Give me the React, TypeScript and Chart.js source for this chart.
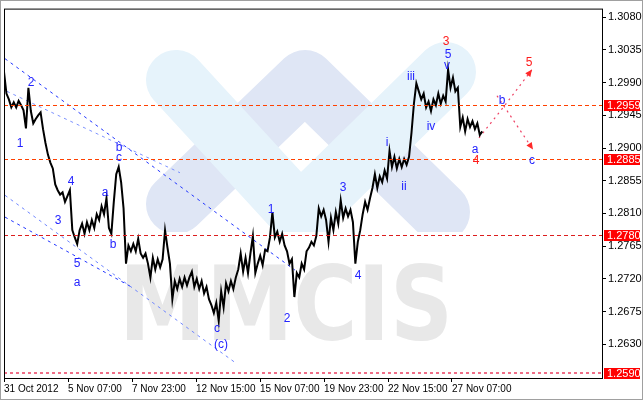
import { useEffect, useRef } from 'react';
import { Chart, registerables } from 'chart.js';
Chart.register(...registerables);

// hours between samples of the close series
const SAMPLE_HOURS = 2.44;
const closes = [
  1.3005, 1.2975, 1.2967, 1.2956, 1.2963, 1.2956, 1.2965, 1.2959, 1.2952, 1.2927,
  1.2983, 1.2951, 1.2934, 1.2940, 1.2945, 1.2949, 1.2926, 1.2907, 1.2891, 1.2880,
  1.2872, 1.2850, 1.2842, 1.2836, 1.2839, 1.2826, 1.2834, 1.2842, 1.2787, 1.2777,
  1.2768, 1.2787, 1.2796, 1.2782, 1.2798, 1.2787, 1.2801, 1.2790, 1.2809, 1.2801,
  1.2820, 1.2809, 1.2831, 1.2790, 1.2782, 1.2826, 1.2864, 1.2874, 1.2853, 1.2817,
  1.2741, 1.2766, 1.2758, 1.2768, 1.2758, 1.2775, 1.2755, 1.2749, 1.2755, 1.2741,
  1.2722, 1.2749, 1.2733, 1.2747, 1.2736, 1.2747, 1.2787, 1.2763, 1.2741, 1.2692,
  1.2717, 1.2706, 1.2720, 1.2709, 1.2722, 1.2711, 1.2722, 1.2730, 1.2709, 1.2720,
  1.2706, 1.2717, 1.2700, 1.2709, 1.2692, 1.2684, 1.2673, 1.2687, 1.2662, 1.2703,
  1.2681, 1.2714, 1.2703, 1.2717, 1.2706, 1.2722, 1.2733, 1.2755, 1.2730, 1.2749,
  1.2728, 1.2755, 1.2779, 1.2728, 1.2741, 1.2752, 1.2739, 1.2760, 1.2758, 1.2777,
  1.2812, 1.2777, 1.2785, 1.2771, 1.2782, 1.2766, 1.2758, 1.2741, 1.2747, 1.2695,
  1.2728, 1.2722, 1.2741, 1.2733, 1.2758, 1.2763, 1.2771, 1.2766, 1.2779, 1.2817,
  1.2806, 1.2815, 1.2801, 1.2771, 1.2804, 1.2787, 1.2812, 1.2796, 1.2828, 1.2804,
  1.2817, 1.2806, 1.2815, 1.2798, 1.2741, 1.2771, 1.2787, 1.2809, 1.2826, 1.2815,
  1.2831, 1.2845, 1.2864, 1.2845, 1.2861, 1.2853, 1.2869, 1.2858, 1.2896, 1.2874,
  1.2888, 1.2872, 1.2885, 1.2874, 1.2885, 1.2877, 1.2888, 1.2921, 1.2961, 1.2989,
  1.2978, 1.2967, 1.2975, 1.2956, 1.2964, 1.2951, 1.2967, 1.2959, 1.2975, 1.2961,
  1.2972, 1.2964, 1.3008, 1.2983, 1.2997, 1.2978, 1.2983, 1.2929, 1.2942, 1.2923,
  1.2940, 1.2929, 1.2937, 1.2926, 1.2934, 1.2918, 1.2923,
];

const xTickHours = [0, 64, 128, 192, 256, 320, 384, 448];
const xTickLabels = [
  '31 Oct 2012', '5 Nov 07:00', '7 Nov 23:00', '12 Nov 15:00',
  '15 Nov 07:00', '19 Nov 23:00', '22 Nov 15:00', '27 Nov 07:00',
];
const yTickValues = [1.263, 1.2675, 1.272, 1.2765, 1.281, 1.2855, 1.29, 1.2945, 1.299, 1.3035, 1.308];
const levelValues = [1.2959, 1.2885, 1.278, 1.259];

// channel lines: [hour, price] start / end
const trendStart = [[1, 1.3023], [3, 1.2978], [1, 1.2835], [1, 1.2805]];
const trendEnd = [[291, 1.2732], [176, 1.2866], [233, 1.2603], [126, 1.2710]];

// projected paths
const projUp = [[475, 1.2914], [501, 1.2959], [528, 1.3008]];
const projDown = [[493, 1.2972], [529, 1.2898]];

// wave labels
const waveText = ['1', '2', '3', '4', '5', 'a', 'a', 'b', 'b', 'c', 'c', '(c)', '1', '2', '3', '4', 'i', 'ii', 'iii', 'iv', 'v', '5', '3', 'a', '4', 'b', 'c', '5'];
const waveHour = [16, 27, 54, 67, 73, 73, 101, 109, 115, 115, 213, 217, 267, 283, 339, 354, 383, 400, 407, 427, 443, 444, 442, 471, 472, 498, 528, 525];
const wavePrice = [1.2906, 1.2990, 1.2800, 1.2854, 1.2741, 1.2715, 1.2839, 1.2767, 1.2900, 1.2887, 1.2652, 1.2630, 1.2815, 1.2665, 1.2845, 1.2725, 1.2908, 1.2847, 1.2998, 1.2929, 1.3014, 1.3028, 1.3046, 1.2898, 1.2883, 1.2965, 1.2883, 1.3018];
const waveMajor = [false, false, false, false, false, false, false, false, false, false, false, false, false, false, false, false, false, false, false, false, false, false, true, false, true, false, false, true];

const AXIS_FONT = "'Liberation Sans Narrow', 'Liberation Sans', sans-serif";
const BLUE = '#2424ff';
const RED = '#ff1a1a';

const trendColors = ['#2236ff', '#7d92ff', '#6f86ff', '#2236ff'];
const levelColors = ['rgb(255,64,0)', 'rgb(255,64,0)', 'rgb(220,30,30)', 'rgb(240,110,135)'];

const watermarkPlugin = {
  id: 'watermark',
  beforeDatasetsDraw(chart: any) {
    const { ctx, chartArea: a } = chart;
    ctx.save();
    ctx.beginPath();
    ctx.rect(a.left, a.top, a.right - a.left, 232 - a.top);
    ctx.clip();
    ctx.lineCap = 'round';
    ctx.lineJoin = 'round';
    ctx.lineWidth = 60;
    ctx.strokeStyle = '#dfe6f5';
    ctx.beginPath();
    ctx.moveTo(176, 204);
    ctx.lineTo(305, 80);
    ctx.lineTo(440, 212);
    ctx.stroke();
    ctx.lineJoin = 'miter';
    ctx.strokeStyle = '#e6f3fb';
    ctx.beginPath();
    ctx.moveTo(176, 80);
    ctx.lineTo(300, 215);
    ctx.lineTo(446, 72);
    ctx.stroke();
    ctx.restore();

    ctx.save();
    ctx.font = "bold 100px 'DejaVu Sans'";
    const m = ctx.measureText('MMCIS');
    const w = m.actualBoundingBoxRight + m.actualBoundingBoxLeft;
    const h = m.actualBoundingBoxAscent;
    ctx.translate(127, 340);
    ctx.scale(320 / w, 78 / h);
    ctx.fillStyle = '#e8e8e8';
    ctx.textBaseline = 'alphabetic';
    ctx.fillText('MMCIS', m.actualBoundingBoxLeft, 0);
    ctx.restore();
  },
};

const overlayPlugin = {
  id: 'overlay',
  afterDatasetsDraw(chart: any) {
    const { ctx, chartArea: a, scales } = chart;
    const y = scales.y;
    const x = scales.x;
    ctx.save();
    ctx.globalAlpha = 1;
    ctx.globalCompositeOperation = 'source-over';
    // level lines, drawn dash by dash
    levelValues.forEach((v, i) => {
      const py = Math.round(y.getPixelForValue(v));
      ctx.fillStyle = levelColors[i];
      const thick = i === 3 ? 2 : 1;
      const dash = i === 3 ? 3 : 4;
      const gap = 3;
      for (let px = a.left; px < a.right; px += dash + gap) {
        ctx.fillRect(px, py - (thick - 1), Math.min(dash, a.right - px), thick);
      }
    });

    // arrowheads for projections
    ctx.save();
    ctx.beginPath();
    ctx.rect(a.left, a.top, a.right - a.left, a.bottom - a.top);
    ctx.clip();
    [projUp, projDown].forEach((path) => {
      const p1 = path[path.length - 2];
      const p2 = path[path.length - 1];
      const x1 = x.getPixelForValue(p1[0]);
      const y1 = y.getPixelForValue(p1[1]);
      const x2 = x.getPixelForValue(p2[0]);
      const y2 = y.getPixelForValue(p2[1]);
      const ang = Math.atan2(y2 - y1, x2 - x1);
      const L = 7;
      const W = 3.2;
      ctx.fillStyle = '#ff2a2a';
      ctx.beginPath();
      ctx.moveTo(x2, y2);
      ctx.lineTo(x2 - L * Math.cos(ang) + W * Math.sin(ang), y2 - L * Math.sin(ang) - W * Math.cos(ang));
      ctx.lineTo(x2 - L * Math.cos(ang) - W * Math.sin(ang), y2 - L * Math.sin(ang) + W * Math.cos(ang));
      ctx.closePath();
      ctx.fill();
    });

    // wave labels
    ctx.font = "12px 'Liberation Sans', sans-serif";
    ctx.textAlign = 'center';
    ctx.textBaseline = 'middle';
    waveText.forEach((t, i) => {
      ctx.fillStyle = waveMajor[i] ? RED : BLUE;
      ctx.fillText(t, x.getPixelForValue(waveHour[i]), y.getPixelForValue(wavePrice[i]));
    });
    ctx.restore();

    // border of plot
    ctx.strokeStyle = '#000';
    ctx.lineWidth = 1;
    ctx.setLineDash([]);
    ctx.strokeRect(a.left + 0.5, a.top + 0.5, a.right - a.left, a.bottom - a.top);

    // level price boxes on the axis
    ctx.font = `11px ${AXIS_FONT}`;
    ctx.textAlign = 'left';
    ctx.textBaseline = 'middle';
    levelValues.forEach((v) => {
      const py = Math.round(y.getPixelForValue(v));
      ctx.fillStyle = '#ff0000';
      ctx.fillRect(a.right + 2, py - 5, 36, 11);
      ctx.fillStyle = '#ffffff';
      ctx.fillText(v.toFixed(4), a.right + 5, py + 0.5);
    });

    // outer frame
    ctx.strokeStyle = '#a0a0a0';
    ctx.strokeRect(0.5, 0.5, chart.width - 1, chart.height - 1);
    ctx.restore();
  },
};

export default function App() {
  const ref = useRef<HTMLCanvasElement | null>(null);
  useEffect(() => {
    if (!ref.current) return;
    const priceData = closes.map((v, i) => ({ x: i * SAMPLE_HOURS, y: v }));
    const trendSets = trendStart.map((s, i) => ({
      type: 'line' as const,
      data: [{ x: s[0], y: s[1] }, { x: trendEnd[i][0], y: trendEnd[i][1] }],
      borderColor: trendColors[i],
      borderWidth: 1,
      borderDash: [3, 4],
      pointRadius: 0,
    }));
    const projSets = [projUp, projDown].map((p) => ({
      type: 'line' as const,
      data: p.map((q) => ({ x: q[0], y: q[1] })),
      borderColor: '#ee4466',
      borderWidth: 1.2,
      borderDash: [2, 4],
      pointRadius: 0,
    }));
    const chart = new Chart(ref.current, {
      type: 'line',
      data: {
        datasets: [
          {
            data: priceData,
            borderColor: '#000000',
            borderWidth: 2,
            pointRadius: 0,
            tension: 0,
          },
          ...trendSets,
          ...projSets,
        ] as any,
      },
      options: {
        responsive: false,
        animation: false,
        layout: { padding: { left: 4, top: 4, right: 0, bottom: 0 } },
        plugins: { legend: { display: false }, tooltip: { enabled: false } },
        scales: {
          x: {
            type: 'linear',
            min: 0,
            max: 598,
            afterBuildTicks: (s: any) => {
              s.ticks = xTickHours.map((v) => ({ value: v }));
            },
            afterFit: (s: any) => {
              s.height = 22;
            },
            grid: { drawOnChartArea: false, tickLength: 4, color: '#000' },
            border: { display: false },
            ticks: {
              autoSkip: false,
              maxRotation: 0,
              align: 'start',
              padding: 1,
              color: '#000',
              font: { family: AXIS_FONT, size: 10 },
              callback: (_v: any, i: number) => xTickLabels[i],
            },
          },
          y: {
            position: 'right',
            min: 1.25836,
            max: 1.30919,
            afterBuildTicks: (s: any) => {
              s.ticks = yTickValues.map((v) => ({ value: v }));
            },
            afterFit: (s: any) => {
              s.width = 41;
            },
            grid: { drawOnChartArea: false, tickLength: 4, color: '#000' },
            border: { display: false },
            ticks: {
              padding: 2,
              color: '#000',
              font: { family: AXIS_FONT, size: 11 },
              callback: (v: any) => Number(v).toFixed(4),
            },
          },
        },
      } as any,
      plugins: [watermarkPlugin, overlayPlugin],
    });
    return () => chart.destroy();
  }, []);
  return (
    <div style={{ position: 'fixed', left: 0, top: 0, width: 643, height: 400, background: '#fff' }}>
      <canvas ref={ref} width={643} height={400} style={{ display: 'block' }} />
    </div>
  );
}
